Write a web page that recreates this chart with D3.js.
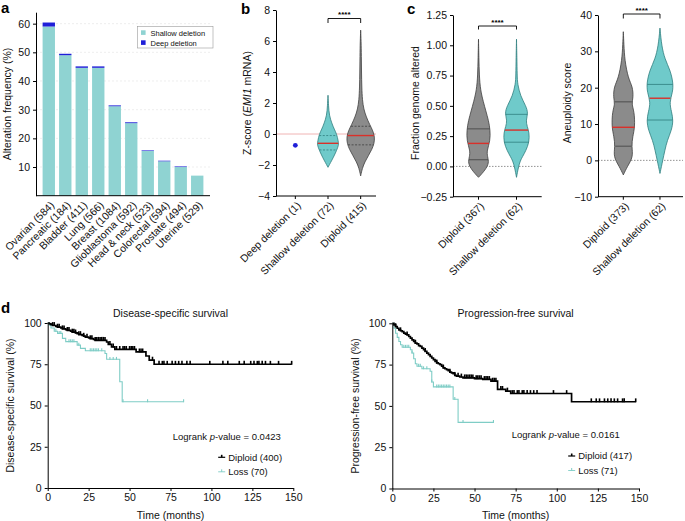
<!DOCTYPE html>
<html><head><meta charset="utf-8">
<script src="https://cdn.jsdelivr.net/npm/d3@7"></script>
<style>body{margin:0;background:#fff}svg{display:block}</style>
</head><body><svg id="chart" width="685" height="521"></svg>
<script>
// ---------------- DATA ----------------
// Panel a
const cancerTypes = ["Ovarian (584)","Pancreatic (184)","Bladder (411)","Lung (566)","Breast (1084)","Glioblastoma (592)","Head & neck (523)","Colorectal (594)","Prostate (494)","Uterine (529)"];
const shallowFreq = [59.0,49.0,44.6,44.6,31.2,25.3,15.6,12.0,10.0,7.0];
const deepFreq    = [1.4,0.5,0.5,0.5,0.3,0.3,0.2,0.2,0.2,0];
const freqTicks = [10,20,30,40,50,60];
const legendA = ["Shallow deletion","Deep deletion"];

// Panel b  (violin profiles: [value, relative density])
const zGroups = ["Deep deletion (1)","Shallow deletion (72)","Diploid (415)"];
const zTicks = [-4,-2,0,2,4,6,8];
const zDeepValue = -0.73;
const zShallowProfile = [[2.5,0],[1.8,0.04],[1.2,0.09],[0.7,0.27],[0.3,0.45],[0,0.62],[-0.45,0.73],[-0.65,0.76],[-0.85,0.71],[-1.3,0.5],[-1.7,0.27],[-2.0,0.09],[-2.15,0]];
const zShallowQuart = [-1.03,-0.6,-0.1];
const zDiploidProfile = [[6.7,0],[6.0,0.03],[5.0,0.05],[4.0,0.06],[3.0,0.08],[2.2,0.12],[1.6,0.22],[1.1,0.4],[0.6,0.65],[0.2,0.88],[-0.2,1.0],[-0.6,0.97],[-1.0,0.8],[-1.4,0.55],[-1.8,0.3],[-2.2,0.12],[-2.7,0]];
const zDiploidQuart = [-0.7,-0.1,0.5];

// Panel c left
const fgaGroups = ["Diploid (367)","Shallow deletion (62)"];
const fgaTicks = [-0.25,0,0.25,0.5,0.75,1.0,1.25];
const fgaDiploidProfile = [[1.05,0],[0.9,0.03],[0.75,0.06],[0.63,0.15],[0.53,0.38],[0.46,0.56],[0.38,0.77],[0.3,0.9],[0.21,0.9],[0.13,0.64],[0.08,0.69],[0.03,0.82],[-0.03,0.52],[-0.09,0]];
const fgaDiploidQuart = [0.055,0.19,0.31];
const fgaShallowProfile = [[1.05,0],[0.9,0.03],[0.75,0.05],[0.68,0.08],[0.58,0.31],[0.5,0.72],[0.44,0.9],[0.38,0.72],[0.33,0.82],[0.28,0.98],[0.2,0.98],[0.13,0.72],[0.08,0.46],[0.03,0.21],[-0.09,0]];
const fgaShallowQuart = [0.2,0.3,0.43];

// Panel c right
const aneuGroups = ["Diploid (373)","Shallow deletion (62)"];
const aneuTicks = [-10,0,10,20,30,40];
const aneuDiploidProfile = [[35.4,0],[32,0.04],[27.6,0.1],[22.5,0.36],[20.3,0.68],[17.3,0.73],[15.5,0.6],[13.5,0.8],[9.2,0.85],[6.5,0.68],[3.8,0.6],[1.0,0.73],[-1.7,0.29],[-4,0]];
const aneuDiploidQuart = [3.9,9.1,16.1];
const aneuShallowProfile = [[36.4,0],[31.5,0.12],[27.8,0.36],[25,0.73],[21.4,0.97],[18.7,0.93],[16,0.68],[13.3,0.85],[11,0.97],[8.3,0.85],[5.5,0.53],[2.8,0.36],[0,0.2],[-3.6,0]];
const aneuShallowQuart = [11.1,17.1,20.9];

// Panel d
const timeTicks = [0,25,50,75,100,125,150];
const survTicks = [0,25,50,75,100];
const dssDiploidTimes = [0,1,2,3,5,6,8,9,11,12,14,15,17,18,19,21,22,23,25,26,28,29,36,37,39,41,54,60,62,65,149];
const dssDiploidSurv  = [100,99.5,99,98.5,98,97.5,97,96.5,96,95.5,95,94.5,94,93.5,93,92.5,92,91.5,91,90.5,90,89.5,88.5,87,85.5,84,82.5,80,77.5,75,75];
const dssDiploidCensor = [3,4,6,7,9,10,12,13,15,16,17,19,20,22,24,26,27,29,30,31,32,33,34,35,38,40,42,44,46,47,48,50,51,52,53,56,57,58,64,68,70,71,73,76,78,80,82,85,87,99,107,110,117,120,124,126,128,129,131,133,136,141,149];
const dssLossTimes = [0,1,2,4,6,9,11,18,20,23,35,36,44,45.5,83];
const dssLossSurv  = [100,98.6,97,95,93.7,90.7,88.7,86.6,84.6,83.2,81.5,78,64.4,52.3,52.3];
const dssLossCensor = [5,7,8,13,14,15,16,19,26,27,28,29,30,31,33,38,40,42,46,61,83];

const pfsDiploidTimes = [0,1,2,3,4,5,6,7,8,9,10,11,12,13,14,15,16,17,18,19,20,21,22,23,24,25,26,27,28,29,30,31,32,33,34,35,36,37,38,39,41,43,50,55,60,64,69,72,109,148];
const pfsDiploidSurv  = [100,99,98,97,96,95.5,95,94,93.5,93,92,91,90,89,88,87.5,86.5,86,85,84,83,82,81,80,79,78,77,76,75.5,75,74,73,72.5,72,71.3,70.5,70,69.5,68.5,68,67.5,67,66.5,66,65,60,59,57.5,52.5,52.5];
const pfsDiploidCensor = [2,5,9,14,20,27,31,35,38,40,42,44,45,46,47,48,49,51,52,53,54,56,57,58,59,61,62,63,66,67,70,73,74,76,77,79,80,82,84,86,88,98,106,121,124,126,129,131,133,135,137,140,141,148];
const pfsLossTimes = [0,1,2,3,4,5,6,11,12,13,14,15,18,23,24,25,37,40,61.5];
const pfsLossSurv  = [100,97,94,91.5,89,87,85.5,84,82,78.5,75.5,74,72.5,71,64.5,61.5,54,40,40];
const pfsLossCensor = [7,8,9,10,12,16,17,19,21,24,27,28,29,30,31,32,33,34,35,38,43,61.5];

// ---------------- STYLE ----------------
const FONT = '"Liberation Sans", Arial, Helvetica, sans-serif';
const TEAL_BAR = "#8fd3d2", DEEP = "#1f1fd8";
const GRAY_V = "#8b8b8b", GRAY_S = "#3f3f3f";
const TEAL_V = "#6fcaca", TEAL_S = "#2f7e7e";
const RED = "#d9302a";
const TEAL_LINE = "#7fcdc6";

const svg = d3.select("#chart").style("font-family", FONT);

function styleAxis(g, fs) {
  g.selectAll("path,line").attr("stroke","#000").attr("stroke-width",1);
  g.selectAll("text").attr("font-size",fs).attr("fill","#111").attr("font-family",FONT);
}
function hline(g,x1,x2,y,attrs){
  const l=g.append("line").attr("x1",x1).attr("x2",x2).attr("y1",y).attr("y2",y).attr("stroke","#000").attr("stroke-width",1);
  if(attrs) Object.entries(attrs).forEach(([k,v])=>l.attr(k,v));
  return l;
}
function yLabel(g,x,y,parts,fs){
  const t=g.append("text").attr("transform",`translate(${x},${y}) rotate(-90)`).attr("text-anchor","middle")
    .attr("font-size",fs).attr("fill","#111").attr("dy","0.35em");
  parts.forEach(p=>t.append("tspan").text(p.t).attr("font-style",p.i?"italic":"normal"));
  return t;
}
function rotLabels(g,scale,names,axisY,fs,off){
  g.selectAll(null).data(names).join("text")
    .attr("transform",d=>`translate(${scale(d)+(off||0)+3.5},${axisY+7.5}) rotate(-45)`)
    .attr("text-anchor","end").attr("dy","0.35em").attr("font-size",fs).attr("fill","#111").text(d=>d);
}
function panelLetter(x,y,l){
  svg.append("text").attr("x",x).attr("y",y).attr("font-size",15).attr("font-weight","bold").attr("fill","#000").text(l);
}
function halfAt(profile,v){
  for(let i=0;i<profile.length-1;i++){
    const a=profile[i],b=profile[i+1];
    if((v<=a[0]&&v>=b[0])){const t=(a[0]-v)/(a[0]-b[0]);return a[1]+(b[1]-a[1])*t;}
  }
  return 0;
}
function violin(g,cx,yScale,profile,quart,maxW,fill,stroke,dashed){
  const area=d3.area().y(d=>yScale(d[0])).x0(d=>cx-d[1]*maxW).x1(d=>cx+d[1]*maxW).curve(d3.curveBasis);
  g.append("path").datum(profile).attr("d",area).attr("fill",fill).attr("stroke",stroke).attr("stroke-width",0.8);
  quart.forEach((q,i)=>{
    const w=halfAt(profile,q)*maxW*0.97;
    const l=hline(g,cx-w,cx+w,yScale(q));
    if(i===1){l.attr("stroke",RED).attr("stroke-width",1.4);}
    else {l.attr("stroke",stroke).attr("stroke-width",0.8); if(dashed) l.attr("stroke-dasharray","2,1.5");}
  });
}
function bracket(g,x1,x2,y,drop,label){
  g.append("path").attr("d",`M${x1},${y+drop}V${y}H${x2}V${y+drop}`).attr("fill","none").attr("stroke","#000").attr("stroke-width",0.9);
  g.append("text").attr("x",(x1+x2)/2).attr("y",y-1.5).attr("text-anchor","middle").attr("font-size",8).attr("font-weight","bold").attr("fill","#000").text(label);
}

// ---------------- PANEL A ----------------
{
  const g=svg.append("g");
  const x=d3.scaleBand().domain(cancerTypes).range([36,210]).paddingInner(0.25).paddingOuter(0.4);
  const y=d3.scaleLinear().domain([0,64]).range([195.7,12.2]);
  g.selectAll(null).data(freqTicks).join("line").attr("x1",36).attr("x2",210)
    .attr("y1",d=>y(d)).attr("y2",d=>y(d)).attr("stroke","#e2e2e2").attr("stroke-width",0.6).attr("stroke-dasharray","2,2");
  g.selectAll(null).data(cancerTypes).join("rect")
    .attr("x",d=>x(d)).attr("width",x.bandwidth())
    .attr("y",(d,i)=>y(shallowFreq[i])).attr("height",(d,i)=>y(0)-y(shallowFreq[i])).attr("fill",TEAL_BAR);
  g.selectAll(null).data(cancerTypes).join("rect")
    .attr("x",d=>x(d)).attr("width",x.bandwidth())
    .attr("y",(d,i)=>y(shallowFreq[i]+deepFreq[i])).attr("height",(d,i)=>y(shallowFreq[i])-y(shallowFreq[i]+deepFreq[i])).attr("fill",DEEP);
  const ax=g.append("g").attr("transform","translate(36,0)").call(d3.axisLeft(y).tickValues(freqTicks).tickSize(3).tickPadding(3).tickSizeOuter(0));
  styleAxis(ax,10.5);
  hline(g,36,210,y(0));
  rotLabels(g,d=>x(d)+x.bandwidth()/2,cancerTypes,y(0),10.5);
  yLabel(g,7,104,[{t:"Alteration frequency (%)"}],10.5);
  // legend
  g.append("rect").attr("x",137.5).attr("y",26.5).attr("width",75.5).attr("height",21.5).attr("fill","#fff").attr("stroke","#9a9a9a").attr("stroke-width",0.6);
  const lc=[TEAL_BAR,DEEP];
  legendA.forEach((n,i)=>{
    g.append("rect").attr("x",141).attr("y",30.3+i*10).attr("width",4.6).attr("height",4.6).attr("fill",lc[i]);
    g.append("text").attr("x",150.5).attr("y",35.5+i*10).attr("font-size",7.5).attr("fill","#111").text(n);
  });
  panelLetter(1,13,"a");
}

// ---------------- PANEL B ----------------
{
  const g=svg.append("g");
  const y=d3.scaleLinear().domain([-4,8]).range([196,10]);
  const x=d3.scalePoint().domain(zGroups).range([279,377]).padding(0.5);
  hline(g,276,376,y(0),{stroke:"#f0b4b4"});
  violin(g,x(zGroups[1]),y,zShallowProfile,zShallowQuart,14,TEAL_V,TEAL_S,true);
  violin(g,x(zGroups[2]),y,zDiploidProfile,zDiploidQuart,14,GRAY_V,GRAY_S,true);
  g.append("circle").attr("cx",x(zGroups[0])).attr("cy",y(zDeepValue)).attr("r",2.4).attr("fill",DEEP);
  const ax=g.append("g").attr("transform","translate(276,0)").call(d3.axisLeft(y).tickValues(zTicks).tickSize(3).tickPadding(3).tickSizeOuter(0));
  styleAxis(ax,10.5);
  hline(g,276,376,196);
  g.selectAll(null).data(zGroups).join("line").attr("x1",d=>x(d)).attr("x2",d=>x(d)).attr("y1",196).attr("y2",199).attr("stroke","#000");
  rotLabels(g,x,zGroups,196,10.5);
  yLabel(g,247,103,[{t:"Z-score ("},{t:"EMI1",i:true},{t:" mRNA)"}],10.5);
  bracket(g,x(zGroups[1]),x(zGroups[2]),18.5,4.5,"****");
  panelLetter(241,14,"b");
}

// ---------------- PANEL C LEFT ----------------
{
  const g=svg.append("g");
  const y=d3.scaleLinear().domain([-0.25,1.25]).range([196.7,15]);
  const x=d3.scalePoint().domain(fgaGroups).range([459.5,535.5]).padding(0.5);
  hline(g,453,541.7,y(0),{stroke:"#777","stroke-dasharray":"1.5,1.5","stroke-width":0.8});
  violin(g,x(fgaGroups[0]),y,fgaDiploidProfile,fgaDiploidQuart,13,GRAY_V,GRAY_S,false);
  violin(g,x(fgaGroups[1]),y,fgaShallowProfile,fgaShallowQuart,13,TEAL_V,TEAL_S,false);
  const ax=g.append("g").attr("transform","translate(453,0)").call(d3.axisLeft(y).tickValues(fgaTicks).tickFormat(d3.format(".2f")).tickSize(3).tickPadding(3).tickSizeOuter(0));
  styleAxis(ax,10.5);
  hline(g,453,541.7,196.7);
  g.selectAll(null).data(fgaGroups).join("line").attr("x1",d=>x(d)).attr("x2",d=>x(d)).attr("y1",196.7).attr("y2",199.7).attr("stroke","#000");
  rotLabels(g,x,fgaGroups,196.7,10.5);
  yLabel(g,415,103,[{t:"Fraction genome altered"}],10.5);
  bracket(g,x(fgaGroups[0]),x(fgaGroups[1]),26,3.5,"****");
  panelLetter(407,14,"c");
}

// ---------------- PANEL C RIGHT ----------------
{
  const g=svg.append("g");
  const y=d3.scaleLinear().domain([-10,40]).range([196.7,15]);
  const x=d3.scalePoint().domain(aneuGroups).range([605,678.3]).padding(0.5);
  hline(g,598,683,y(0),{stroke:"#777","stroke-dasharray":"1.5,1.5","stroke-width":0.8});
  violin(g,x(aneuGroups[0]),y,aneuDiploidProfile,aneuDiploidQuart,13.7,GRAY_V,GRAY_S,false);
  violin(g,x(aneuGroups[1]),y,aneuShallowProfile,aneuShallowQuart,13.7,TEAL_V,TEAL_S,false);
  const ax=g.append("g").attr("transform","translate(598,0)").call(d3.axisLeft(y).tickValues(aneuTicks).tickSize(3).tickPadding(3).tickSizeOuter(0));
  styleAxis(ax,10.5);
  hline(g,598,683,196.7);
  g.selectAll(null).data(aneuGroups).join("line").attr("x1",d=>x(d)).attr("x2",d=>x(d)).attr("y1",196.7).attr("y2",199.7).attr("stroke","#000");
  rotLabels(g,x,aneuGroups,196.7,10.5);
  yLabel(g,567,103,[{t:"Aneuploidy score"}],10.5);
  bracket(g,x(aneuGroups[0]),x(aneuGroups[1]),14,4.5,"****");
}

// ---------------- PANEL D ----------------
function survPanel(cfg){
  const g=svg.append("g");
  const x=d3.scaleLinear().domain([0,150]).range(cfg.xr);
  const y=d3.scaleLinear().domain([0,100]).range(cfg.yr);
  const line=d3.line().x(d=>x(d[0])).y(d=>y(d[1])).curve(d3.curveStepAfter);
  const stepAt=(T,S,t)=>{let v=S[0];for(let i=0;i<T.length;i++){if(T[i]<=t)v=S[i];}return v;};
  const series=[
    {T:cfg.lossT,S:cfg.lossS,C:cfg.lossC,col:TEAL_LINE,w:1.1,h:2.4},
    {T:cfg.dipT,S:cfg.dipS,C:cfg.dipC,col:"#000",w:1.7,h:3.4}
  ];
  series.forEach(s=>{
    g.append("path").datum(s.T.map((t,i)=>[t,s.S[i]])).attr("d",line).attr("fill","none").attr("stroke",s.col).attr("stroke-width",s.w);
    g.selectAll(null).data(s.C).join("line")
      .attr("x1",d=>x(d)).attr("x2",d=>x(d))
      .attr("y1",d=>y(stepAt(s.T,s.S,d))-s.h).attr("y2",d=>y(stepAt(s.T,s.S,d))+0.5)
      .attr("stroke",s.col).attr("stroke-width",s.w>1.5?1.6:1.1);
  });
  const ay=g.append("g").attr("transform",`translate(${cfg.xr[0]},0)`).call(d3.axisLeft(y).tickValues(survTicks).tickSize(3).tickPadding(3).tickSizeOuter(0));
  styleAxis(ay,10.5);
  const axx=g.append("g").attr("transform",`translate(0,${cfg.yr[0]})`).call(d3.axisBottom(x).tickValues(timeTicks).tickSize(3).tickPadding(3).tickSizeOuter(0));
  styleAxis(axx,10.5);
  const cx=(cfg.xr[0]+cfg.xr[1])/2;
  g.append("text").attr("x",cx).attr("y",cfg.yr[1]-6.5).attr("text-anchor","middle").attr("font-size",10.5).attr("fill","#111").text(cfg.title);
  g.append("text").attr("x",cx).attr("y",518.5).attr("text-anchor","middle").attr("font-size",10.5).attr("fill","#111").text("Time (months)");
  yLabel(g,cfg.ylx,(cfg.yr[0]+cfg.yr[1])/2,[{t:cfg.ylab}],10.5);
  const lr=g.append("text").attr("x",cfg.lrx).attr("y",cfg.lry).attr("font-size",9.5).attr("fill","#111");
  lr.append("tspan").text("Logrank ");
  lr.append("tspan").text("p").attr("font-style","italic");
  lr.append("tspan").text("-value = "+cfg.p);
  cfg.legend.forEach((n,i)=>{
    const ly=cfg.legy+i*14.5;
    const col=i===0?"#000":TEAL_LINE;
    hline(g,cfg.legx-3.5,cfg.legx+3.5,ly,{stroke:col,"stroke-width":i===0?1.2:0.9});
    g.append("line").attr("x1",cfg.legx).attr("x2",cfg.legx).attr("y1",ly-2.5).attr("y2",ly).attr("stroke",col).attr("stroke-width",i===0?1.6:1);
    g.append("text").attr("x",cfg.legx+6.5).attr("y",ly+3.3).attr("font-size",9.5).attr("fill","#111").text(n);
  });
}
survPanel({xr:[47.7,293.3],yr:[488,323],title:"Disease-specific survival",ylab:"Disease-specific survival (%)",ylx:10,
  dipT:dssDiploidTimes,dipS:dssDiploidSurv,dipC:dssDiploidCensor,lossT:dssLossTimes,lossS:dssLossSurv,lossC:dssLossCensor,
  lrx:172.7,lry:440,p:"0.0423",legx:221.7,legy:457.3,legend:["Diploid (400)","Loss (70)"]});
survPanel({xr:[392.3,639],yr:[488.5,323.3],title:"Progression-free survival",ylab:"Progression-free survival (%)",ylx:355,
  dipT:pfsDiploidTimes,dipS:pfsDiploidSurv,dipC:pfsDiploidCensor,lossT:pfsLossTimes,lossS:pfsLossSurv,lossC:pfsLossCensor,
  lrx:511.7,lry:437.6,p:"0.0161",legx:571.7,legy:456,legend:["Diploid (417)","Loss (71)"]});
panelLetter(1,313,"d");
</script></body></html>
